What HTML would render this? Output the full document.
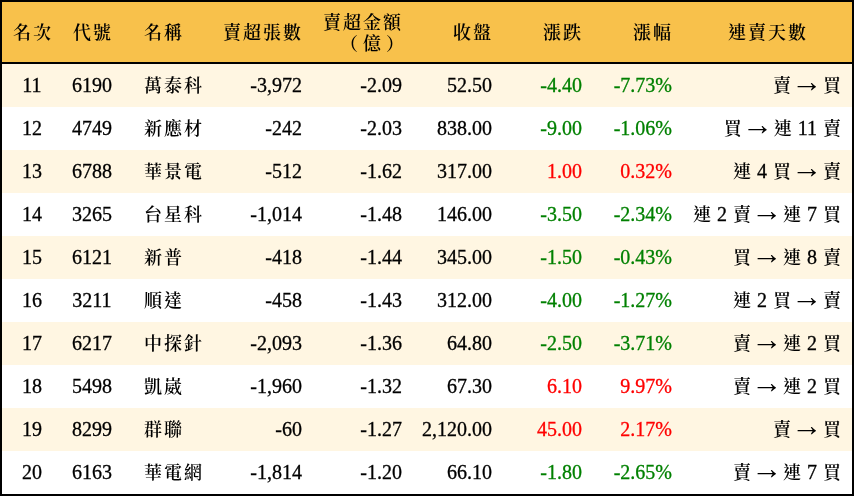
<!DOCTYPE html>
<html lang="zh-Hant">
<head>
<meta charset="utf-8">
<title>賣超排行</title>
<style>
html,body{margin:0;padding:0;background:#fff;}
body{width:854px;height:496px;overflow:hidden;font-family:"Liberation Serif","Noto Serif CJK SC",serif;font-size:20px;color:#000;-webkit-text-stroke:0.3px;}
.wrap{position:absolute;left:0;top:0;width:850px;height:492px;border:2px solid #000;overflow:hidden;will-change:transform;}
table{border-collapse:collapse;table-layout:fixed;width:850px;border-spacing:0;}
th,td{padding:0 10px;font-weight:normal;white-space:nowrap;overflow:visible;line-height:20px;}
thead tr{height:60px;background:#f8c14b;}
thead th{border-bottom:2px solid #000;height:60px;box-sizing:content-box;vertical-align:top;padding-top:20px;padding-bottom:0;height:40px;}
thead th.two{padding-top:10px;height:50px;}
tbody tr{height:43px;}
tbody td{height:32px;vertical-align:top;padding-top:11px;padding-bottom:0;}
tbody tr:nth-child(odd){background:#fff6e2;}
tbody tr:nth-child(even){background:#fff;}
.c{text-align:center;}
.l{text-align:left;padding-left:21px;}
.r{text-align:right;}
.g{color:#008000;}
.d{color:#ff0000;}
.k{-webkit-text-stroke:0;font-weight:600;font-size:18px;letter-spacing:2px;position:relative;left:1px;}
.a{font-size:31px;line-height:0;margin:0 -5.5px;position:relative;top:0;-webkit-text-stroke:0;}
.pl{position:relative;left:-3px;}
.pr{position:relative;left:3px;}
</style>
</head>
<body>
<div class="wrap">
<table>
<colgroup>
<col style="width:60px"><col style="width:60px"><col style="width:90px"><col style="width:100px"><col style="width:100px"><col style="width:90px"><col style="width:90px"><col style="width:90px"><col style="width:170px">
</colgroup>
<thead>
<tr><th class="c"><span class="k">名次</span></th><th class="c"><span class="k">代號</span></th><th class="l"><span class="k">名稱</span></th><th class="r"><span class="k">賣超張數</span></th><th class="r two"><span class="k">賣超金額</span><br><span class="k"><span class="pl">（</span>億<span class="pr">）</span></span></th><th class="r"><span class="k">收盤</span></th><th class="r"><span class="k">漲跌</span></th><th class="r"><span class="k">漲幅</span></th><th class="c"><span class="k">連賣天數</span></th></tr>
</thead>
<tbody>
<tr><td class="c">11</td><td class="c">6190</td><td class="l"><span class="k">萬泰科</span></td><td class="r">-3,972</td><td class="r">-2.09</td><td class="r">52.50</td><td class="r g">-4.40</td><td class="r g">-7.73%</td><td class="r"><span class="k">賣</span> <span class="a">→</span> <span class="k">買</span></td></tr>
<tr><td class="c">12</td><td class="c">4749</td><td class="l"><span class="k">新應材</span></td><td class="r">-242</td><td class="r">-2.03</td><td class="r">838.00</td><td class="r g">-9.00</td><td class="r g">-1.06%</td><td class="r"><span class="k">買</span> <span class="a">→</span> <span class="k">連</span> 11 <span class="k">賣</span></td></tr>
<tr><td class="c">13</td><td class="c">6788</td><td class="l"><span class="k">華景電</span></td><td class="r">-512</td><td class="r">-1.62</td><td class="r">317.00</td><td class="r d">1.00</td><td class="r d">0.32%</td><td class="r"><span class="k">連</span> 4 <span class="k">買</span> <span class="a">→</span> <span class="k">賣</span></td></tr>
<tr><td class="c">14</td><td class="c">3265</td><td class="l"><span class="k">台星科</span></td><td class="r">-1,014</td><td class="r">-1.48</td><td class="r">146.00</td><td class="r g">-3.50</td><td class="r g">-2.34%</td><td class="r"><span class="k">連</span> 2 <span class="k">賣</span> <span class="a">→</span> <span class="k">連</span> 7 <span class="k">買</span></td></tr>
<tr><td class="c">15</td><td class="c">6121</td><td class="l"><span class="k">新普</span></td><td class="r">-418</td><td class="r">-1.44</td><td class="r">345.00</td><td class="r g">-1.50</td><td class="r g">-0.43%</td><td class="r"><span class="k">買</span> <span class="a">→</span> <span class="k">連</span> 8 <span class="k">賣</span></td></tr>
<tr><td class="c">16</td><td class="c">3211</td><td class="l"><span class="k">順達</span></td><td class="r">-458</td><td class="r">-1.43</td><td class="r">312.00</td><td class="r g">-4.00</td><td class="r g">-1.27%</td><td class="r"><span class="k">連</span> 2 <span class="k">買</span> <span class="a">→</span> <span class="k">賣</span></td></tr>
<tr><td class="c">17</td><td class="c">6217</td><td class="l"><span class="k">中探針</span></td><td class="r">-2,093</td><td class="r">-1.36</td><td class="r">64.80</td><td class="r g">-2.50</td><td class="r g">-3.71%</td><td class="r"><span class="k">賣</span> <span class="a">→</span> <span class="k">連</span> 2 <span class="k">買</span></td></tr>
<tr><td class="c">18</td><td class="c">5498</td><td class="l"><span class="k">凱崴</span></td><td class="r">-1,960</td><td class="r">-1.32</td><td class="r">67.30</td><td class="r d">6.10</td><td class="r d">9.97%</td><td class="r"><span class="k">賣</span> <span class="a">→</span> <span class="k">連</span> 2 <span class="k">買</span></td></tr>
<tr><td class="c">19</td><td class="c">8299</td><td class="l"><span class="k">群聯</span></td><td class="r">-60</td><td class="r">-1.27</td><td class="r">2,120.00</td><td class="r d">45.00</td><td class="r d">2.17%</td><td class="r"><span class="k">賣</span> <span class="a">→</span> <span class="k">買</span></td></tr>
<tr><td class="c">20</td><td class="c">6163</td><td class="l"><span class="k">華電網</span></td><td class="r">-1,814</td><td class="r">-1.20</td><td class="r">66.10</td><td class="r g">-1.80</td><td class="r g">-2.65%</td><td class="r"><span class="k">賣</span> <span class="a">→</span> <span class="k">連</span> 7 <span class="k">買</span></td></tr>
</tbody>
</table>
</div>
</body>
</html>
